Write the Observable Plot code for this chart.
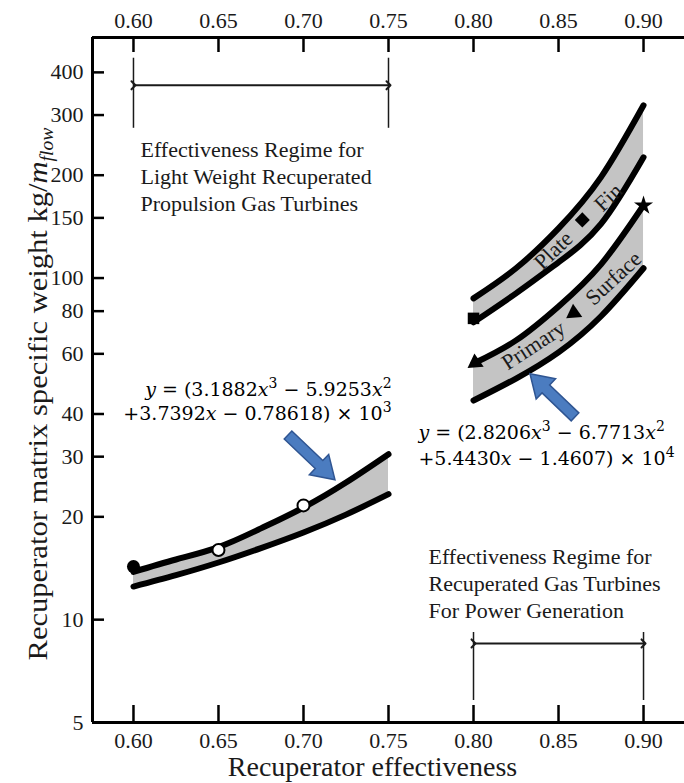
<!DOCTYPE html>
<html><head><meta charset="utf-8">
<script src="https://cdn.jsdelivr.net/npm/d3@7"></script>
<script src="https://cdn.jsdelivr.net/npm/@observablehq/plot@0.6"></script>
<style>
html,body{margin:0;padding:0;background:#fff;}
#chart{width:684px;height:783px;overflow:hidden;}
</style></head><body><div id="chart"></div>
<script>
// ---------- data ----------
const xTicks = [0.60, 0.65, 0.70, 0.75, 0.80, 0.85, 0.90];
const xTickLabels = ["0.60", "0.65", "0.70", "0.75", "0.80", "0.85", "0.90"];
const yTicks = [5, 10, 20, 30, 40, 60, 80, 100, 150, 200, 300, 400];
const yTickLabels = ["5", "10", "20", "30", "40", "60", "80", "100", "150", "200", "300", "400"];

// light-weight band (propulsion)
const band1X = [0.600, 0.625, 0.650, 0.675, 0.700, 0.725, 0.750];
const band1Upper = [13.8, 15.0, 16.3, 18.5, 21.3, 25.2, 30.5];
const band1Lower = [12.5, 13.5, 14.7, 16.2, 18.0, 20.3, 23.3];

// power generation bands
const band2X = [0.800, 0.825, 0.850, 0.875, 0.900];
const plateFinUpper = [87.2, 106.8, 139.8, 197.5, 320.4];
const plateFinLower = [74.2, 90.2, 111.2, 144.0, 225.6];
const primaryUpper = [56.2, 65.7, 82.6, 109.7, 163.3];
const primaryLower = [43.8, 50.8, 60.6, 77.3, 106.8];

// markers
const filledCircles = [{x: 0.60, y: 14.3}];
const openCircles = [{x: 0.65, y: 16.0}, {x: 0.70, y: 21.6}];
const squareMarkers = [{x: 0.80, y: 76.2}];
const diamondMarkers = [{x: 0.864, y: 148}];
const triangleMarkers = [{x: 0.859, y: 79}, {x: 0.801, y: 56.5}];
const starMarkers = [{x: 0.90, y: 163}];

// band labels
const bandLabels = [
  {text: "Plate", x: 0.847, y: 120.5, angle: -44},
  {text: "Fin", x: 0.8794, y: 172, angle: -44},
  {text: "Primary", x: 0.8353, y: 63.5, angle: -33},
  {text: "Surface", x: 0.8824, y: 99.8, angle: -43}
];

// equations (^ marks a superscript digit)
const eq1Lines = ["y = (3.1882x^3 − 5.9253x^2", "+3.7392x − 0.78618) × 10^3"];
const eq1Y = [47.2, 39.9];
const eq1X = 0.7518;
const eq2Lines = ["y = (2.8206x^3 − 6.7713x^2", "+5.4430x − 1.4607) × 10^4"];
const eq2Y = [35.1, 29.6];
const eq2X = 0.7676;

// blue call-out arrows (tail -> tip)
const blueArrows = [
  {x1: 0.6912, y1: 34.6, x2: 0.7188, y2: 25.6},
  {x1: 0.8600, y1: 39.1, x2: 0.8335, y2: 52.3}
];

// effectiveness regime brackets
const regimeX1 = [0.60, 0.80];
const regimeX2 = [0.75, 0.90];
const regimeArrowY = [366.6, 8.52];
const regimeTop = [440, 9.17];
const regimeBottom = [274.4, 5.80];
const regimeText = [
  "Effectiveness Regime for\nLight Weight Recuperated\nPropulsion Gas Turbines",
  "Effectiveness Regime for\nRecuperated Gas Turbines\nFor Power Generation"
];
const regimeTextX = [0.6041, 0.7735];
const regimeTextY = [200, 12.85];

const xDomain = [0.5759, 0.9241];
const yDomain = [5, 506];

// ---------- build ----------
const band1 = band1X.map((x, i) => ({x, lo: band1Lower[i], hi: band1Upper[i]}));
const plateFin = band2X.map((x, i) => ({x, lo: plateFinLower[i], hi: plateFinUpper[i]}));
const primary = band2X.map((x, i) => ({x, lo: primaryLower[i], hi: primaryUpper[i]}));
const regimes = regimeX1.map((x1, i) => ({x1, x2: regimeX2[i], ya: regimeArrowY[i], yt: regimeTop[i], yb: regimeBottom[i], text: regimeText[i], tx: regimeTextX[i], ty: regimeTextY[i]}));
const eq1 = eq1Lines.map((t, i) => ({t, x: eq1X, y: eq1Y[i]}));
const eq2 = eq2Lines.map((t, i) => ({t, x: eq2X, y: eq2Y[i]}));

const W = 684, H = 783, mL = 92, mR = 0, mT = 37, mB = 61;
const frameH = H - mT - mB, frameW = W - mL - mR;
const ink = "#1a1a1a";
const grey = "#c4c4c4";
const curve = "natural";
const NS = "http://www.w3.org/2000/svg";

function blockArrows(index, scales) {
  const g = document.createElementNS(NS, "g");
  for (const a of blueArrows) {
    const x1 = scales.x(a.x1), y1 = scales.y(a.y1), x2 = scales.x(a.x2), y2 = scales.y(a.y2);
    const len = Math.hypot(x2 - x1, y2 - y1);
    const ux = (x2 - x1) / len, uy = (y2 - y1) / len;
    const nx = -uy, ny = ux;
    const Hd = 22, Wd = 14, S = 5.5;
    const bx = x2 - ux * Hd, by = y2 - uy * Hd;
    const pts = [
      [x1 + nx * S, y1 + ny * S], [bx + nx * S, by + ny * S], [bx + nx * Wd, by + ny * Wd],
      [x2, y2], [bx - nx * Wd, by - ny * Wd], [bx - nx * S, by - ny * S], [x1 - nx * S, y1 - ny * S]
    ];
    const p = document.createElementNS(NS, "polygon");
    p.setAttribute("points", pts.map(d => d.join(",")).join(" "));
    p.setAttribute("fill", "#4b7cc0");
    p.setAttribute("stroke", "#2f5592");
    p.setAttribute("stroke-width", "1.5");
    g.appendChild(p);
  }
  return g;
}

const chart = Plot.plot({
  width: W, height: H,
  marginLeft: mL, marginRight: mR, marginTop: mT, marginBottom: mB,
  x: {domain: xDomain, axis: null},
  y: {type: "log", domain: yDomain, axis: null},
  style: {fontFamily: "Liberation Serif, Times New Roman, serif", background: "white", overflow: "visible", color: ink},
  marks: [
    // bands
    Plot.areaY(band1, {x: "x", y1: "lo", y2: "hi", fill: grey, curve}),
    Plot.areaY(plateFin, {x: "x", y1: "lo", y2: "hi", fill: grey, curve}),
    Plot.areaY(primary, {x: "x", y1: "lo", y2: "hi", fill: grey, curve}),
    ...[band1, plateFin, primary].flatMap(b => [
      Plot.line(b, {x: "x", y: "hi", stroke: "#000", strokeWidth: 6, curve}),
      Plot.line(b, {x: "x", y: "lo", stroke: "#000", strokeWidth: 6, curve})
    ]),
    // markers
    Plot.dot(filledCircles, {x: "x", y: "y", r: 6.5, fill: "#000"}),
    Plot.dot(openCircles, {x: "x", y: "y", r: 6, fill: "#fff", stroke: "#000", strokeWidth: 2}),
    Plot.dot(squareMarkers, {x: "x", y: "y", r: 6.5, symbol: "square", fill: "#000"}),
    Plot.dot(diamondMarkers, {x: "x", y: "y", r: 6, symbol: "square", rotate: 45, fill: "#000"}),
    Plot.dot(triangleMarkers, {x: "x", y: "y", r: 6, symbol: "triangle", rotate: -125, fill: "#000"}),
    Plot.dot(starMarkers, {x: "x", y: "y", r: 6, symbol: "star", fill: "#000"}),
    // band labels
    Plot.text(bandLabels, {x: "x", y: "y", text: "text", rotate: "angle", fontSize: 22, fill: ink}),
    // equations
    Plot.text(eq1, {x: "x", y: "y", text: "t", textAnchor: "end", fontSize: 19, fontFamily: "DejaVu Serif", fill: "#000"}),
    Plot.text(eq2, {x: "x", y: "y", text: "t", textAnchor: "start", fontSize: 19, fontFamily: "DejaVu Serif", fill: "#000"}),
    // regime brackets
    Plot.ruleX(regimes, {x: "x1", y1: "yb", y2: "yt", stroke: ink, strokeWidth: 1.5}),
    Plot.ruleX(regimes, {x: "x2", y1: "yb", y2: "yt", stroke: ink, strokeWidth: 1.5}),
    Plot.link(regimes, {x1: "x1", x2: "x2", y1: "ya", y2: "ya", stroke: ink, strokeWidth: 2, markerStart: "arrow", markerEnd: "arrow"}),
    Plot.text(regimes, {x: "tx", y: "ty", text: "text", textAnchor: "start", lineAnchor: "middle", lineHeight: 1.22, fontSize: 22, fill: ink}),
    // call-out arrows
    blockArrows,
    // frame lines
    Plot.ruleX([xDomain[0]], {stroke: "#000", strokeWidth: 3}),
    Plot.ruleY([yDomain[0]], {stroke: "#000", strokeWidth: 3}),
    Plot.ruleY([yDomain[1]], {stroke: "#000", strokeWidth: 3}),
    // ticks (inward)
    Plot.ruleX(xTicks, {x: d => d, insetTop: frameH - 17, stroke: "#000", strokeWidth: 2.5}),
    Plot.ruleX(xTicks, {x: d => d, insetBottom: frameH - 15, stroke: "#000", strokeWidth: 2.5}),
    Plot.ruleY(yTicks, {y: d => d, insetRight: frameW - 12, stroke: "#000", strokeWidth: 2.5}),
    // tick labels
    Plot.text(xTicks, {x: d => d, text: (d, i) => xTickLabels[i], frameAnchor: "bottom", lineAnchor: "middle", dy: 18, fontSize: 22, fill: ink}),
    Plot.text(xTicks, {x: d => d, text: (d, i) => xTickLabels[i], frameAnchor: "top", lineAnchor: "middle", dy: -17, fontSize: 22, fill: ink}),
    Plot.text(yTicks, {y: d => d, text: (d, i) => yTickLabels[i], frameAnchor: "left", lineAnchor: "middle", dx: -9, textAnchor: "end", fontSize: 22, fill: ink}),
    // axis titles
    Plot.text(["Recuperator effectiveness"], {text: d => d, frameAnchor: "bottom", textAnchor: "middle", lineAnchor: "middle", dx: -16, dy: 45, fontSize: 28, fill: ink}),
    Plot.text(["Recuperator matrix specific weight kg/mflow"], {text: d => d, frameAnchor: "left", textAnchor: "middle", lineAnchor: "middle", dx: -54, dy: 14, rotate: -90, fontSize: 28, fill: ink})
  ]
});

document.getElementById("chart").appendChild(chart);

// ---------- typographic touch-ups (italic variables, superscripts, subscript) ----------
const eqSet = new Set([...eq1Lines, ...eq2Lines]);
chart.querySelectorAll("text").forEach(el => {
  const s = el.textContent;
  if (eqSet.has(s)) {
    el.textContent = "";
    let raised = false;
    for (const part of s.split(/(\^\d|[xy])/)) {
      if (!part) continue;
      const t = document.createElementNS(NS, "tspan");
      if (part[0] === "^") {
        t.textContent = part.slice(1);
        t.setAttribute("font-size", "14");
        t.setAttribute("dy", "-8");
        raised = true;
      } else {
        if (raised) { t.setAttribute("dy", "8"); raised = false; }
        if (part === "x" || part === "y") t.setAttribute("font-style", "italic");
        t.textContent = part;
      }
      el.appendChild(t);
    }
  } else if (s === "Recuperator matrix specific weight kg/mflow") {
    el.textContent = "";
    const a = document.createElementNS(NS, "tspan"); a.textContent = "Recuperator matrix specific weight kg/";
    const m = document.createElementNS(NS, "tspan"); m.textContent = "m"; m.setAttribute("font-style", "italic");
    const f = document.createElementNS(NS, "tspan"); f.textContent = "flow"; f.setAttribute("font-style", "italic");
    f.setAttribute("font-size", "18"); f.setAttribute("dy", "6");
    el.appendChild(a); el.appendChild(m); el.appendChild(f);
    el.setAttribute("textLength", "533");
    el.setAttribute("lengthAdjust", "spacingAndGlyphs");
  }
});
</script>
</body></html>
